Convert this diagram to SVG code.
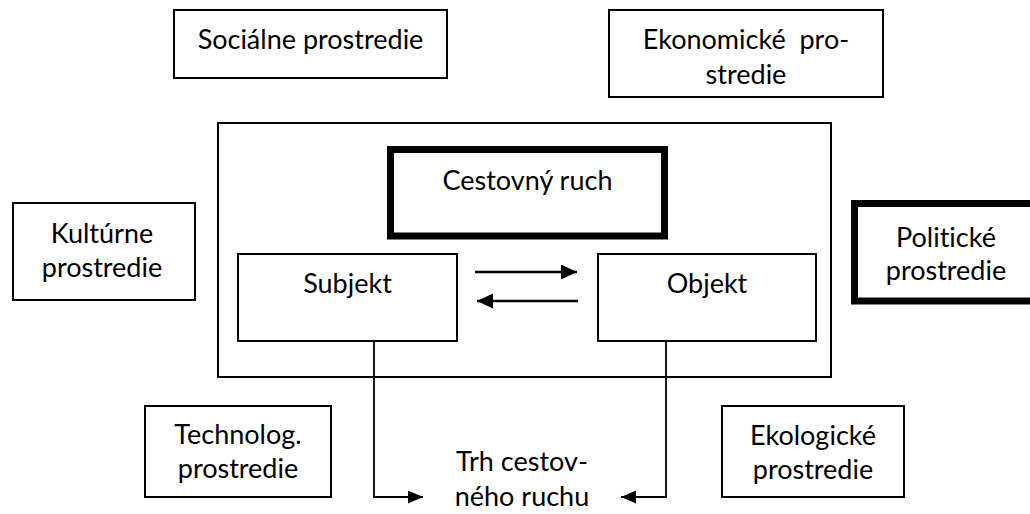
<svg xmlns="http://www.w3.org/2000/svg" width="1030" height="514" viewBox="0 0 1030 514">
<style>
  .box { fill: #fff; stroke: #000; stroke-width: 2; }
  .thick { fill: #fff; stroke: #000; stroke-width: 7; }
  .lbl { font-family: Lato, "Liberation Sans", sans-serif; font-size: 27px; fill: #000; text-anchor: middle; font-variant-ligatures: none; }
  .conn { fill: none; stroke: #000; stroke-width: 1.8; }
  .arr { fill: none; stroke: #000; stroke-width: 2.5; }
</style>
<defs>
  <marker id="ah" markerUnits="userSpaceOnUse" markerWidth="16" markerHeight="16" refX="16" refY="7.5" orient="auto">
    <path d="M0,0 L16,7.5 L0,15 z" fill="#000"/>
  </marker>
  <marker id="ah2" markerUnits="userSpaceOnUse" markerWidth="16" markerHeight="14" refX="15" refY="6.5" orient="auto">
    <path d="M0,0 L15,6.5 L0,13 z" fill="#000"/>
  </marker>
</defs>
<rect width="1030" height="514" fill="#fff"/>

<g id="socialne">
  <rect class="box" x="174" y="10" width="273" height="68"/>
  <text class="lbl" x="310.5" y="49">Sociálne prostredie</text>
</g>
<g id="ekonomicke">
  <rect class="box" x="609" y="10" width="274" height="87"/>
  <text class="lbl" x="746" y="49" xml:space="preserve">Ekonomické  pro-</text>
  <text class="lbl" x="746" y="84">stredie</text>
</g>
<g id="prostredie-cr">
  <rect class="box" x="218" y="123" width="613" height="254"/>
</g>
<g id="cestovny-ruch">
  <rect class="thick" x="390.5" y="149.5" width="274" height="86.5"/>
  <text class="lbl" x="527.5" y="190">Cestovný ruch</text>
</g>
<g id="subjekt">
  <rect class="box" x="238" y="254" width="219" height="87"/>
  <text class="lbl" x="347.5" y="293">Subjekt</text>
</g>
<g id="objekt">
  <rect class="box" x="598" y="254" width="218" height="87"/>
  <text class="lbl" x="707" y="293">Objekt</text>
</g>
<g id="kulturne">
  <rect class="box" x="13" y="203" width="182" height="97"/>
  <text class="lbl" x="102" y="243">Kultúrne</text>
  <text class="lbl" x="102" y="277">prostredie</text>
</g>
<g id="politicke">
  <rect class="thick" x="854.5" y="203.5" width="183" height="97.5"/>
  <text class="lbl" x="946" y="247">Politické</text>
  <text class="lbl" x="946" y="280">prostredie</text>
</g>
<g id="technolog">
  <rect class="box" x="145" y="406" width="186" height="91"/>
  <text class="lbl" x="238" y="444">Technolog.</text>
  <text class="lbl" x="238" y="478">prostredie</text>
</g>
<g id="ekologicke">
  <rect class="box" x="722" y="406" width="182" height="91"/>
  <text class="lbl" x="813" y="445">Ekologické</text>
  <text class="lbl" x="813" y="479">prostredie</text>
</g>
<g id="trh">
  <text class="lbl" x="522" y="471">Trh cestov-</text>
  <text class="lbl" x="522" y="506">ného ruchu</text>
</g>

<g id="connectors">
  <line class="arr" x1="475" y1="272" x2="577" y2="272" marker-end="url(#ah)"/>
  <line class="arr" x1="578" y1="301" x2="477" y2="301" marker-end="url(#ah)"/>
  <polyline class="conn" points="374,341 374,497 423,497" marker-end="url(#ah2)"/>
  <polyline class="conn" points="666,341 666,497 621,497" marker-end="url(#ah2)"/>
</g>
</svg>
